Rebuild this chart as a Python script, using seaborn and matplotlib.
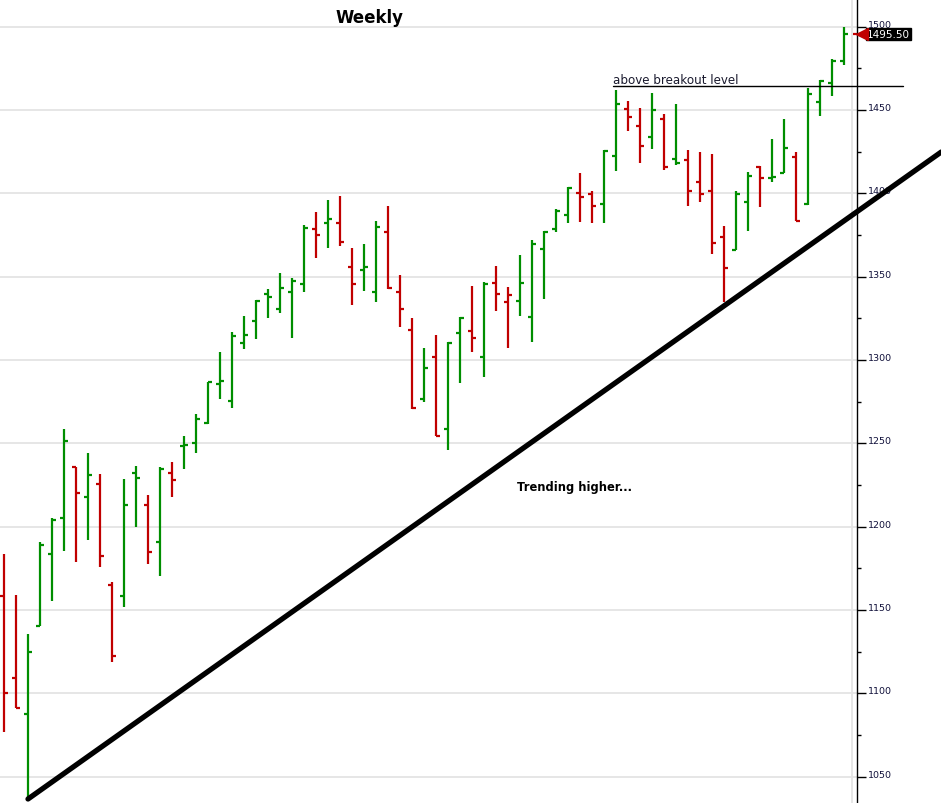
import numpy as np
import matplotlib
matplotlib.use("Agg")
import matplotlib.pyplot as plt
import seaborn as sns
from matplotlib.ticker import MultipleLocator

# weekly OHLC values (one bar per week, oldest first)
opens = [1158.6, 1109.4, 1087.8, 1140.4, 1183.8, 1205.4, 1236.0, 1218.0, 1225.8, 1165.2,
         1158.6, 1232.5, 1213.2, 1191.0, 1232.4, 1248.6, 1250.2, 1262.2, 1285.8, 1275.6,
         1310.4, 1323.4, 1339.8, 1330.8, 1341.0, 1345.8, 1378.8, 1382.4, 1382.4, 1356.0,
         1354.2, 1341.0, 1377.0, 1341.0, 1318.2, 1276.8, 1302.0, 1258.8, 1316.2, 1317.6,
         1302.0, 1346.4, 1335.0, 1335.4, 1326.0, 1366.8, 1378.8, 1387.2, 1400.4, 1399.8,
         1393.8, 1422.4, 1450.8, 1440.6, 1434.0, 1444.8, 1420.8, 1420.2, 1406.8, 1401.6,
         1374.0, 1366.2, 1394.6, 1416.0, 1409.4, 1412.2, 1422.0, 1393.6, 1455.0, 1466.0,
         1479.4]
highs = [1183.6, 1159.0, 1135.6, 1190.6, 1205.0, 1258.6, 1236.0, 1244.2, 1231.6, 1166.6,
         1228.6, 1236.2, 1219.0, 1235.6, 1238.8, 1254.4, 1267.6, 1286.8, 1304.8, 1316.6,
         1326.4, 1335.8, 1342.8, 1352.2, 1349.2, 1381.0, 1388.8, 1396.0, 1398.4, 1367.2,
         1369.6, 1383.4, 1392.4, 1351.0, 1325.2, 1307.2, 1315.2, 1310.6, 1325.8, 1344.4,
         1346.6, 1356.4, 1343.8, 1363.0, 1372.0, 1377.2, 1390.6, 1404.0, 1412.0, 1401.2,
         1426.0, 1462.0, 1455.4, 1451.2, 1460.2, 1447.8, 1453.6, 1425.8, 1424.8, 1423.6,
         1380.4, 1401.2, 1412.6, 1416.6, 1432.6, 1444.6, 1424.6, 1463.2, 1467.8, 1480.8,
         1499.8]
lows = [1076.6, 1091.0, 1037.6, 1140.4, 1155.6, 1185.6, 1179.0, 1192.2, 1176.0, 1118.6,
        1152.0, 1200.0, 1177.8, 1170.6, 1218.0, 1234.6, 1244.2, 1261.4, 1276.6, 1271.4,
        1306.6, 1312.6, 1325.4, 1328.4, 1313.4, 1341.0, 1361.2, 1367.4, 1368.6, 1333.2,
        1341.6, 1335.0, 1342.4, 1320.0, 1270.8, 1274.6, 1254.4, 1246.2, 1286.4, 1305.0,
        1290.0, 1329.6, 1307.4, 1326.6, 1311.0, 1336.8, 1377.0, 1382.0, 1383.0, 1382.4,
        1382.0, 1413.2, 1437.6, 1418.4, 1426.8, 1414.2, 1416.8, 1392.2, 1395.0, 1363.4,
        1334.6, 1366.2, 1377.6, 1391.6, 1406.6, 1412.2, 1383.2, 1393.2, 1446.6, 1458.6,
        1476.8]
closes = [1100.2, 1091.4, 1125.0, 1189.2, 1204.2, 1251.6, 1220.4, 1231.2, 1182.6, 1122.6,
          1213.0, 1229.0, 1185.0, 1234.8, 1228.2, 1249.2, 1264.8, 1286.6, 1287.4, 1314.6,
          1315.2, 1335.6, 1338.0, 1343.4, 1347.6, 1379.4, 1375.2, 1384.8, 1371.0, 1345.8,
          1356.0, 1380.0, 1343.4, 1330.8, 1271.4, 1295.2, 1254.4, 1310.2, 1325.4, 1313.2,
          1345.6, 1339.6, 1339.2, 1346.4, 1369.8, 1377.0, 1389.6, 1403.2, 1398.0, 1392.2,
          1425.6, 1453.8, 1446.0, 1428.6, 1450.2, 1415.8, 1418.2, 1401.4, 1399.8, 1370.4,
          1355.0, 1399.4, 1410.2, 1409.2, 1409.8, 1427.0, 1383.2, 1459.4, 1467.6, 1479.4,
          1495.5]

yticks = [1050, 1100, 1150, 1200, 1250, 1300, 1350, 1400, 1450, 1500]
trend_x = [2, 78.1]
trend_y = [1036.6, 1424.8]
breakout_level = 1464.2
last_price = 1495.50

GREEN = "#008e00"
RED = "#c00000"

weeks = np.arange(len(closes))
prev = np.r_[closes[0] + 1, closes[:-1]]
colors = [GREEN if c > p else RED for c, p in zip(closes, prev)]

sns.set_style("white")
plt.rcParams['font.family'] = ['DejaVu Sans']
plt.rcParams['text.color'] = 'black'

fig = plt.figure(figsize=(9.41, 8.04), dpi=100)
ax = fig.add_axes([0, 0, 857 / 941, 1])
ax.set_xlim(-0.333, 71.08)
ax.set_ylim(1034.2, 1516.6)

# gridlines
for y in yticks:
    ax.axhline(y, color="#e4e4e4", lw=1.3, zorder=0)
ax.axvline(70.67, color="#e4e4e4", lw=1.3, zorder=0)

# OHLC bars
tick = 0.34
ax.vlines(weeks, lows, highs, colors=colors, lw=1.6, zorder=3)
ax.hlines(opens, weeks - tick, weeks, colors=colors, lw=1.6, zorder=3)
ax.hlines(closes, weeks, weeks + tick, colors=colors, lw=1.6, zorder=3)

# trend line
sns.lineplot(x=trend_x, y=trend_y, ax=ax, color="black", lw=3.8,
             clip_on=False, zorder=4)

# breakout level
ax.plot([50.75, 74.9], [breakout_level] * 2, color="black", lw=1.0,
        clip_on=False, zorder=4)
ax.text(50.75, 1466.4, "above breakout level", fontsize=8.6, color="#1a1a2e",
        ha="left", va="baseline")

ax.text(47.5, 1223.8, "Trending higher...", fontsize=8.3, fontweight="bold",
        ha="center", va="center", color="black")

# right axis
for s in ["left", "top", "bottom"]:
    ax.spines[s].set_visible(False)
ax.spines["right"].set_color("black")
ax.spines["right"].set_linewidth(1.0)
ax.yaxis.tick_right()
ax.set_yticks(yticks)
ax.set_yticklabels([str(v) for v in yticks])
ax.yaxis.set_minor_locator(MultipleLocator(25))
ax.tick_params(axis="y", which="major", length=6.5, width=1.0, pad=1.5,
               labelsize=6.8, colors="black")
ax.tick_params(axis="y", which="minor", length=3, width=1.0, colors="black")
for lab in ax.get_yticklabels():
    lab.set_va("baseline")
    lab.set_color("#10103a")
ax.set_xticks([])

# last price marker
ax.hlines(last_price, 70.75, 71.08, colors=RED, lw=1.6, clip_on=False)
ax.plot([71.5], [last_price], marker="<", color=RED, markersize=8.5,
        clip_on=False, zorder=5)
ax.text(71.9, last_price, "1495.50", fontsize=7.5, color="white",
        ha="left", va="center", clip_on=False,
        bbox=dict(boxstyle="square,pad=0.12", fc="black", ec="black"))

fig.text(369 / 941, 1 - 18 / 804, "Weekly", fontsize=12, fontweight="bold",
         ha="center", va="center", color="black")

fig.savefig("out.png", dpi=100)
